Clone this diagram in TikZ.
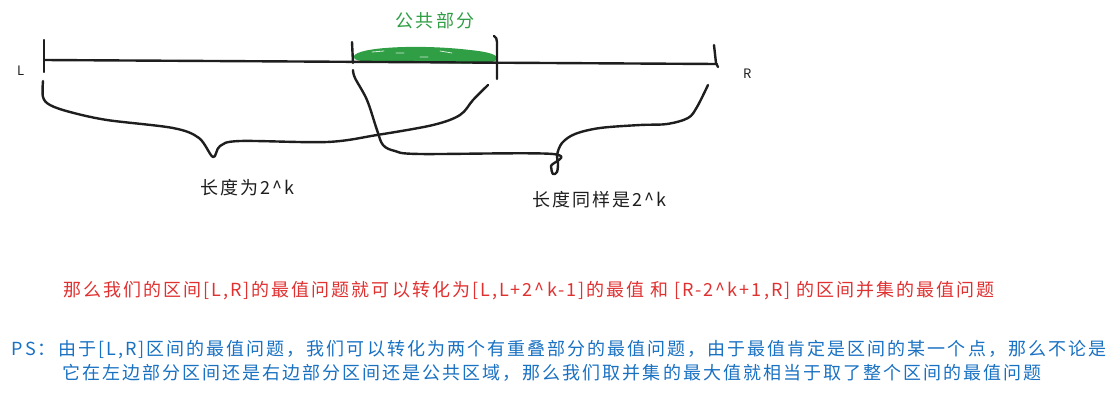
\documentclass[tikz,border=0pt]{standalone}
\usepackage{fontspec}
\newfontfamily\cjkfont{Noto Sans CJK SC}[LetterSpace=11.3]
\definecolor{ink}{HTML}{1E1E1E}
\definecolor{exred}{HTML}{E03131}
\definecolor{exblue}{HTML}{1971C2}
\definecolor{exgreen}{HTML}{2F9E44}
\tikzset{
  pen/.style={draw=ink, line width=2.4pt, line cap=round, line join=round},
  txt/.style={inner sep=0pt, outer sep=0pt, font=\cjkfont\fontsize{18}{20}\selectfont},
  lbl/.style={txt, text=ink, anchor=west},
}
\begin{document}
\begin{tikzpicture}[x=1pt,y=-1pt]
\useasboundingbox (0,0) rectangle (1117,397);
% green common part
\fill[exgreen] (354,56) .. controls (358,47) and (420,44) .. (470,50)
  .. controls (490,52) and (498,55) .. (497,59)
  .. controls (496,64) and (470,64) .. (440,63) -- (380,62)
  .. controls (360,62) and (352,60) .. (354,56) -- cycle;
\draw[white, line width=0.8pt, opacity=0.8, line cap=round] (372,52) -- (384,51) (396,53) -- (404,53) (440,51) -- (452,53) (420,57) -- (428,57);
% main segment
\draw[pen] (44,60) -- (717,64);
\draw[pen] (44,40) -- (44,72);
\draw[pen] (352,42) -- (353,63);
\draw[pen] (494,36) .. controls (496,37) and (497,39) .. (497,42) -- (497,79);
\draw[pen] (714,45) -- (716,63) -- (718,67);
% first brace
\draw[pen] plot[smooth, tension=0.55] coordinates {(43,81) (43,97) (50,105) (70,112) (107,120) (173,128) (199,138) (213,157) (220,146) (240,141) (327,142) (377,135) (433,125) (460,115) (473,100) (488,85)};
% second brace
\draw[pen] plot[smooth, tension=0.55] coordinates {(353,70) (355,78) (367,100) (377,130) (383,145) (395,151) (420,154) (553,154) (551,166) (553,174) (557,172) (558,163) (557,155) (562,143) (575,134) (600,128) (640,125) (667,124) (688,118) (697,107) (708,85)};
% labels
\node[lbl] (Lt) at (17,71) {\fontsize{13}{14}\selectfont L};
\node[lbl] (Rt) at (743,74) {\fontsize{13}{14}\selectfont R};
\node[txt, text=exgreen] (common) at (435,21) {公共部分};
\node[lbl] (len1) at (200,188) {长度为2\^{}k};
\node[lbl] (len2) at (532,200) {长度同样是2\^{}k};
\node[txt, text=exred, anchor=west] (red) at (63,291) {那么我们的区间[L,R]的最值问题就可以转化为[L,L+2\^{}k-1]的最值 和 [R-2\^{}k+1,R] 的区间并集的最值问题};
\node[txt, text=exblue, anchor=west] (ps1) at (12,350) {PS：由于[L,R]区间的最值问题，我们可以转化为两个有重叠部分的最值问题，由于最值肯定是区间的某一个点，那么不论是};
\node[txt, text=exblue, anchor=west] (ps2) at (62,373) {它在左边部分区间还是右边部分区间还是公共区域，那么我们取并集的最大值就相当于取了整个区间的最值问题};
\end{tikzpicture}
\end{document}
